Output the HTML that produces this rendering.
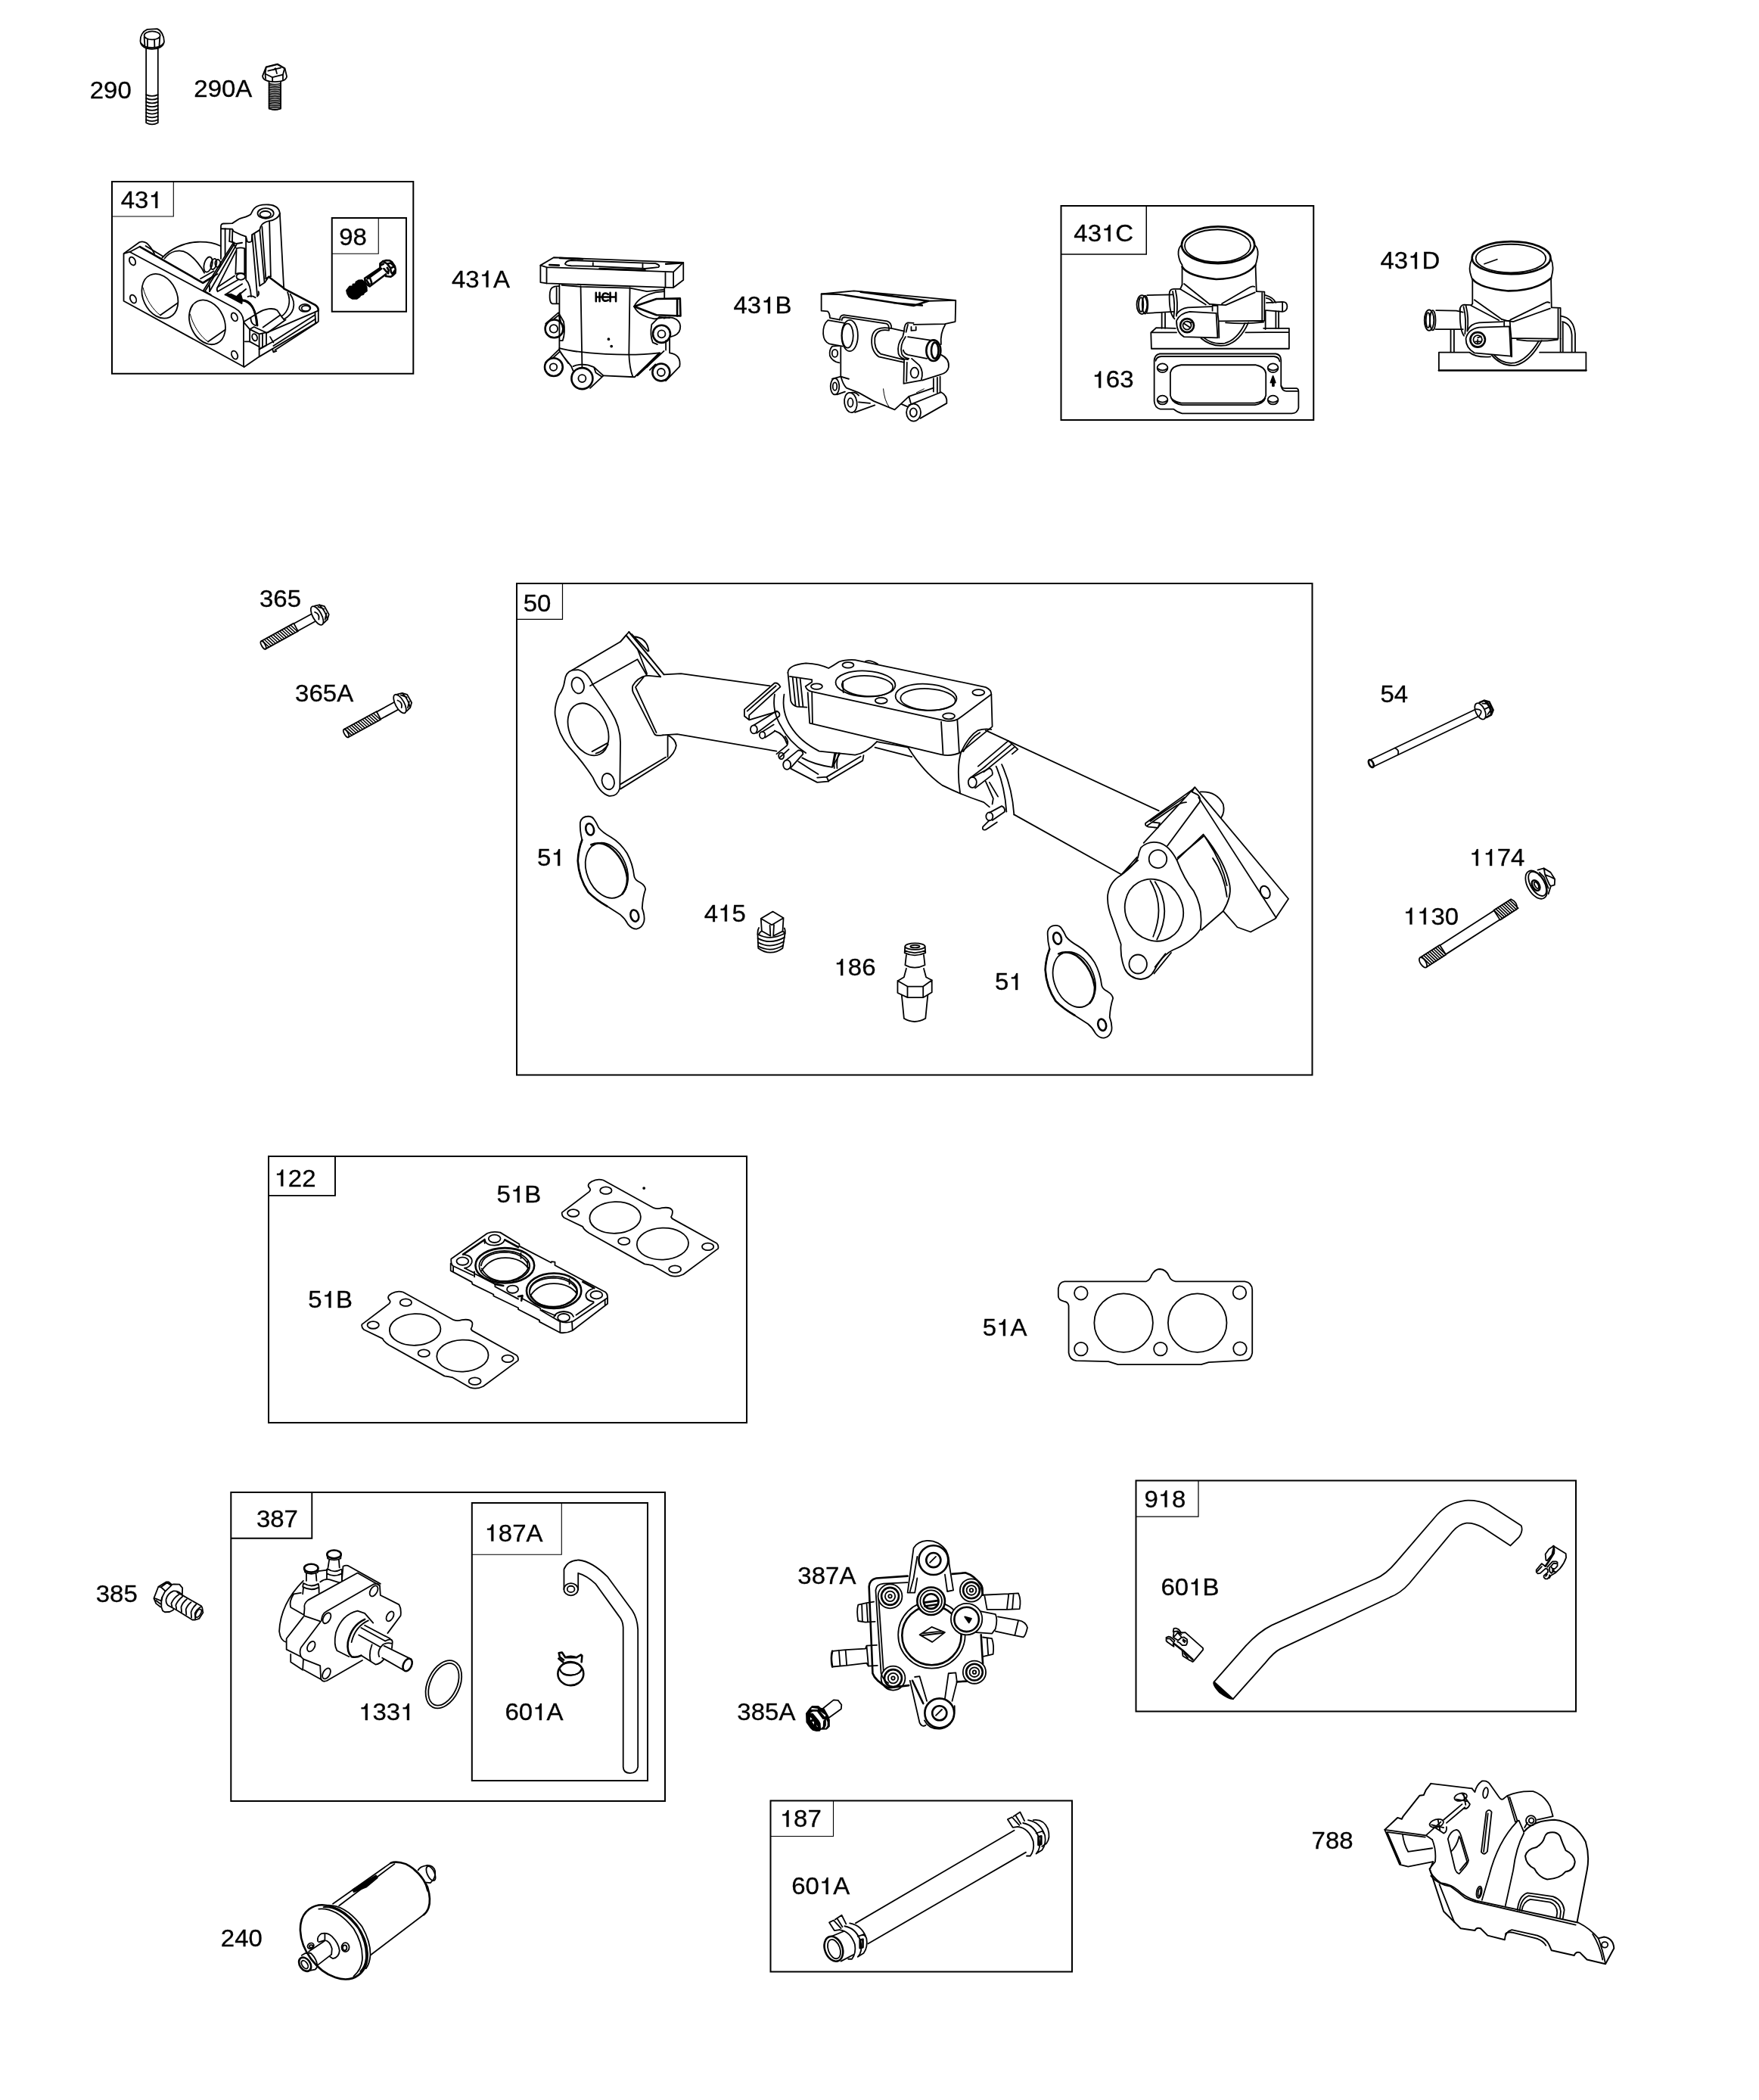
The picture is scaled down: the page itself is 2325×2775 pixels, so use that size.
<!DOCTYPE html>
<html><head><meta charset="utf-8"><title>Parts diagram</title>
<style>
html,body{margin:0;padding:0;background:#fff;}
body{width:2325px;height:2775px;overflow:hidden;}
svg{display:block;}
svg text{font-family:"Liberation Sans",sans-serif;font-size:30px;fill:#000;}
.b{fill:none;stroke:#000;stroke-width:2;}
.l{fill:none;stroke:#000;}
g.p{fill:none;stroke:#000;stroke-width:1.8;stroke-linecap:round;stroke-linejoin:round;}
g.p *{vector-effect:non-scaling-stroke;}
.t{stroke-width:1.0;}
.h{stroke-width:2.6;}
.m{stroke-width:2;}
.w{fill:#fff;}
.k{fill:#000;}
</style></head><body>
<svg width="2325" height="2775" viewBox="0 0 2325 2775">
<rect x="0" y="0" width="2325" height="2775" fill="#fff" stroke="none"/>
<g id="boxes">
<rect class="b" x="148" y="240" width="398.30" height="253.75"/>
<path class="l" stroke-width="1.1" d="M229.3,240 V286 H148"/>
<rect class="b" x="438.75" y="288" width="98.25" height="123.75"/>
<path class="l" stroke-width="1.1" d="M500.25,288 V335.3 H438.75"/>
<rect class="b" x="1402.5" y="272" width="333.75" height="283.00"/>
<path class="l" stroke-width="1.5" d="M1515.25,272 V336 H1402.5"/>
<rect class="b" x="683" y="771" width="1051.50" height="649.50"/>
<path class="l" stroke-width="1.2" d="M743.5,771 V818.4 H683"/>
<rect class="b" x="355" y="1528" width="632.00" height="352.00"/>
<path class="l" stroke-width="1.9" d="M443,1528 V1579.85 H355"/>
<rect class="b" x="305.3" y="1972" width="573.70" height="408.00"/>
<path class="l" stroke-width="1.9" d="M412.3,1972 V2032.8 H305.3"/>
<rect class="b" x="623.8" y="1986" width="232.20" height="367.00"/>
<path class="l" stroke-width="1.1" d="M742.3,1986 V2054.3 H623.8"/>
<rect class="b" x="1501.5" y="1956.5" width="581.50" height="305.00"/>
<path class="l" stroke-width="1.25" d="M1584,1956.5 V2004 H1501.5"/>
<rect class="b" x="1018.5" y="2379.5" width="398.50" height="226.00"/>
<path class="l" stroke-width="1.1" d="M1101.5,2379.5 V2426.5 H1018.5"/>
</g>
<g class="p" transform="translate(100,20) scale(0.18192)">
<path d="M470,188 C468,150 488,118 520,104 L592,100 C622,112 642,150 643,192 C640,228 600,247 555,247 C510,247 472,228 470,188Z"/>
<ellipse cx="556" cy="148" rx="58" ry="30"/>
<path d="M498,160 L503,226 M522,176 L522,238 M572,178 L574,238 M612,160 L607,226 M476,205 C490,228 520,236 555,236 C595,236 625,225 638,205"/>
<path d="M512,244 V782 Q555,806 598,782 V244"/>
<path d="M512,578 Q555,598 598,578"/>
<path d="M512,604 Q555,624 598,604"/>
<path d="M512,630 Q555,650 598,630"/>
<path d="M512,656 Q555,676 598,656"/>
<path d="M512,682 Q555,702 598,682"/>
<path d="M512,708 Q555,728 598,708"/>
<path d="M512,734 Q555,754 598,734"/>
<path d="M512,760 Q555,780 598,760"/>
<path d="M1358,442 L1384,376 L1466,355 L1520,386 L1534,446 C1530,470 1500,484 1448,484 C1398,484 1360,470 1358,442Z"/>
<path d="M1384,378 L1466,358 L1518,388 L1506,432 L1430,452 L1377,426Z"/>
<path d="M1377,426 L1380,462 M1430,452 L1430,482 M1506,432 L1506,468 M1398,405 L1490,383 M1436,398 L1452,386 L1462,424"/>
<path d="M1405,484 V676 Q1448,700 1490,676 V484"/>
<path d="M1405,498 Q1448,508 1490,498" stroke-width="1.6"/>
<path d="M1405,511 Q1448,521 1490,511" stroke-width="1.6"/>
<path d="M1405,524 Q1448,534 1490,524" stroke-width="1.6"/>
<path d="M1405,537 Q1448,547 1490,537" stroke-width="1.6"/>
<path d="M1405,550 Q1448,560 1490,550" stroke-width="1.6"/>
<path d="M1405,563 Q1448,573 1490,563" stroke-width="1.6"/>
<path d="M1405,576 Q1448,586 1490,576" stroke-width="1.6"/>
<path d="M1405,589 Q1448,599 1490,589" stroke-width="1.6"/>
<path d="M1405,602 Q1448,612 1490,602" stroke-width="1.6"/>
<path d="M1405,615 Q1448,625 1490,615" stroke-width="1.6"/>
<path d="M1405,628 Q1448,638 1490,628" stroke-width="1.6"/>
<path d="M1405,641 Q1448,651 1490,641" stroke-width="1.6"/>
<path d="M1405,654 Q1448,664 1490,654" stroke-width="1.6"/>
<path d="M1405,667 Q1448,677 1490,667" stroke-width="1.6"/>
<path d="M1405,680 Q1448,690 1490,680" stroke-width="1.6"/>
</g>
<g class="p" transform="translate(155,305) scale(0.12508)">
<!-- front flange -->
<path d="M68,240 L68,742 L1335,1435 L1335,955 C1330,885 1290,842 1240,815 L130,222 Z"/>
<path d="M72,238 L235,120 Q272,106 308,128 Q345,155 392,240"/>
<path d="M135,222 L240,166"/>
<path class="h" d="M240,168 L905,550 L1030,472"/>
<path d="M300,160 L480,268"/>
<path d="M475,285 C560,190 700,125 850,118 C950,115 1040,135 1090,160"/>
<path d="M500,292 C560,215 660,185 740,235 C820,290 890,380 920,445"/>
<ellipse cx="451" cy="690" rx="178" ry="245" transform="rotate(-25 451 690)"/>
<ellipse cx="951" cy="966" rx="178" ry="245" transform="rotate(-25 951 966)"/>
<path d="M455,892 L640,762 M960,1172 L1140,1045"/>
<path class="t" d="M272,600 C300,720 380,840 455,892 M770,880 C800,1000 880,1120 960,1172"/>
<ellipse cx="160" cy="320" rx="30" ry="46" transform="rotate(-25 160 320)"/>
<ellipse cx="168" cy="720" rx="30" ry="46" transform="rotate(-25 168 720)"/>
<ellipse cx="1238" cy="910" rx="30" ry="46" transform="rotate(-25 1238 910)"/>
<ellipse cx="1240" cy="1312" rx="30" ry="46" transform="rotate(-25 1240 1312)"/>
<!-- area right of plate, Z8-C coords -->
<g transform="translate(1160,520)">
<path d="M180,920 L340,810 L340,705"/>
<path class="h" d="M600,90 L930,262 Q965,285 965,322"/>
<path d="M965,322 L965,440 L340,810"/>
<path d="M930,338 L935,455 M965,322 L930,338"/>
<path d="M415,558 L930,338 M478,655 L925,372 M490,695 L935,412 M505,742 L950,452 M340,730 L478,655 M455,600 L490,660"/>
<path d="M480,730 L490,762 L522,750"/>
<ellipse cx="822" cy="295" rx="60" ry="40"/><ellipse cx="832" cy="299" rx="44" ry="29"/>
<path d="M640,130 C680,230 650,330 575,385 M668,150 C742,260 700,360 600,415"/>
<path d="M330,345 C400,300 490,292 530,320 L580,392 L600,415"/>
<path d="M180,440 L330,345 M380,500 L560,372 M430,555 L620,420"/>
<path d="M240,520 L340,570 L340,705 L240,650 Z M240,520 L285,495 L415,555 L340,570 M415,555 L415,690 L340,730 M375,575 L375,715"/>
<ellipse cx="292" cy="605" rx="26" ry="38" transform="rotate(-20 292 605)"/>
<path d="M180,450 L240,520 M190,650 L240,650"/>
<path class="h" d="M160,215 C260,230 310,330 320,480"/>
<path d="M250,400 C250,440 270,470 300,480"/>
</g>
<!-- tower, Z8-B coords -->
<g transform="translate(760,-344)">
<path d="M335,640 L335,300 Q335,270 360,268 L455,265 L525,220 C560,205 620,195 650,170 C665,150 665,130 690,105 C720,75 780,65 840,68 C900,72 950,100 958,160 L960,200 L1000,950"/>
<path d="M958,160 C950,200 900,230 850,240 C800,250 770,265 755,300 L745,335 L665,385 L660,455 Q640,470 615,460 L600,405 L545,385 L470,350 L455,325 L340,322"/>
<ellipse cx="808" cy="160" rx="85" ry="55"/><ellipse cx="805" cy="170" rx="58" ry="34"/>
<path d="M380,322 L380,610 M430,325 L425,455 M458,328 L455,455"/>
<path d="M665,385 L720,1035 M690,375 L745,925 M745,335 L795,885 M770,300 L810,850 M848,245 L862,825"/>
<path d="M720,1035 Q745,1020 732,985 M745,925 L800,890 L840,830 L862,825 M810,850 L840,830"/>
<path class="h" d="M840,830 L1000,950"/>
<path d="M600,405 L600,850 M500,530 Q545,515 585,530 M500,530 L490,800 M585,530 L585,800 M490,800 Q540,780 585,800"/>
<ellipse cx="545" cy="828" rx="46" ry="34"/>
<path d="M425,455 L500,480 L560,470 M455,455 L490,520"/>
<path d="M470,465 L150,975 M500,490 L215,985 M495,555 L300,940 M480,478 L170,978"/>
<ellipse cx="200" cy="700" rx="42" ry="82" transform="rotate(15 200 700)"/>
<ellipse cx="258" cy="695" rx="30" ry="58" transform="rotate(15 258 695)"/>
<ellipse cx="302" cy="688" rx="28" ry="40"/>
<path d="M120,850 L260,770 M150,890 L300,800"/>
<path d="M300,940 L480,820 M300,985 L520,860 M380,1020 L560,905 M480,1060 L600,960 M300,940 Q285,965 300,985"/>
<path class="k" d="M380,1018 L555,1112 L560,1070 L540,1000 L500,1040 L440,1012 Z"/>
<path class="h" d="M560,1075 C640,1075 700,1150 715,1340"/>
<path d="M600,860 C640,900 650,960 655,1040 M620,1040 Q660,1020 700,1050"/>
<path d="M160,980 L230,1020 M215,985 L215,920"/>
</g>
</g>

<g class="p" transform="translate(438,330) scale(0.06254)">
<path class="k" d="M320,860 L385,775 L450,770 L455,730 L510,720 L520,680 L580,645 L650,640 L700,690 L745,790 L750,870 L690,910 L680,940 L620,960 L600,990 L540,1035 L440,1035 L370,990 L335,930 Z"/>
<path class="h" d="M705,605 L1030,385 M810,775 L1150,520 M705,605 L715,690 L765,745 L810,775 M770,610 L1060,400" stroke-width="3"/>
<path class="h" d="M820,610 L850,690 L840,720 M740,640 L800,730"/>
<path class="h" d="M1030,385 L1030,292 L1090,242 L1150,226 L1232,228 L1282,262 L1342,352 L1356,422 L1350,492 L1300,542 L1255,572 L1150,560 L1150,520" stroke-width="3"/>
<path class="h" d="M1090,242 L1180,300 L1250,390 L1320,360 M1180,300 L1250,280 L1310,330 M1250,390 L1260,470 L1290,510 L1340,440 M1110,400 L1170,470 L1200,500 L1210,430 L1180,380 M1040,330 L1100,300"/>
</g>

<g class="p" transform="translate(705,330) scale(0.12508)">
<path d="M75,165 L215,82 L1585,135 L1585,320 L1480,400 L140,355 L75,345 Z"/>
<path d="M140,185 L1480,235 L1480,400 M140,185 L140,355 M75,165 L140,185 M1480,235 L1585,135 M1395,232 L1395,398"/>
<path d="M335,150 Q345,115 400,112 L1290,145 Q1350,165 1320,185 L1180,200 L640,175 L400,170 Q340,165 335,150 M630,120 L630,175 M1155,140 L1155,195"/>
<path class="h" d="M280,88 L520,98 M170,160 L270,165 M1400,150 L1560,140 M700,200 L1180,218"/>
<path d="M275,365 L275,1060 M500,385 L515,1240 M1020,400 L1010,1100 Q1015,1250 1050,1340"/>
<path d="M275,1040 C500,1100 1000,1130 1330,1090"/>
<path d="M740,1330 L1070,1345 L1330,1090 M1100,1330 L1380,1070 M1440,930 L1440,1085 M1400,960 L1400,1060"/>
<path d="M270,385 Q180,380 175,450 Q165,560 200,570 L270,570 M245,400 L245,565"/>
<path d="M300,375 L500,390 L1020,405 L1200,440 L1385,420"/>
<!-- bosses -->
<circle class="h" cx="220" cy="835" r="95"/><circle cx="215" cy="835" r="42"/>
<circle class="h" cx="215" cy="1240" r="95"/><circle cx="212" cy="1240" r="38"/>
<circle class="h" cx="515" cy="1360" r="112"/><circle cx="515" cy="1360" r="40"/>
<circle class="h" cx="1355" cy="890" r="92"/><circle cx="1355" cy="890" r="40"/>
<circle class="h" cx="1350" cy="1295" r="92"/><circle cx="1350" cy="1295" r="40"/>
<path d="M1380,725 C1480,690 1570,750 1550,840 C1540,890 1490,912 1450,920"/>
<path d="M1440,1090 C1520,1100 1560,1150 1545,1235 L1400,1385"/>
<path d="M130,780 L265,665 L320,760 Q340,870 310,960 L285,960 M200,745 L270,690 L290,760"/>
<path d="M130,1190 L270,1055 L320,1130 L400,1230 L425,1290 M290,1090 L370,1200 M210,1140 L275,1080"/>
<path d="M420,1232 Q520,1190 640,1240 L740,1330 L600,1462 M640,1240 L660,1300 L720,1340"/>
<path d="M1250,790 L1330,710 L1440,720 M1250,790 Q1230,900 1262,980 L1310,1000 M1200,1240 L1340,1090 M1230,1270 L1290,1210"/>
<!-- nozzle -->
<path class="h" d="M1065,600 L1300,520 L1550,515 L1555,700 L1300,690 Z"/>
<path d="M1065,600 C1100,520 1200,470 1290,450 L1385,440 M1065,600 C1100,680 1200,720 1280,730 L1400,715"/>
<path class="h" d="M1520,525 L1520,700"/>
<path d="M1385,400 L1385,510"/>
<!-- HCH -->
<path class="h" stroke-width="3" d="M662,455 V545 M700,455 V545 M662,500 H700 M790,470 Q735,440 728,500 Q735,560 790,532 M812,455 V545 M872,455 V545 M700,500 H812 M812,500 H872"/>
<circle class="k" cx="795" cy="945" r="8"/><circle class="k" cx="825" cy="1020" r="8"/>
</g>

<g class="p" transform="translate(1075,375) scale(0.12508)">
<path d="M285,380 L175,360 Q175,310 150,290 L85,285 L85,108 L430,75 L1505,175 L1500,400 L1390,425 L1060,430"/>
<path class="h" d="M335,120 L1060,232 L1215,182 L500,86 M850,202 L1150,228"/>
<path d="M85,108 L270,112 L335,120 M1215,182 L1505,175"/>
<path d="M280,380 Q280,328 330,330 L780,395 Q828,410 825,470 L960,500"/>
<path d="M302,385 Q300,350 340,354 L770,420 Q802,428 800,482"/>
<path d="M155,385 Q100,430 105,530 Q110,610 170,635 L310,660 M155,385 L330,415"/>
<ellipse cx="385" cy="548" rx="86" ry="165"/><ellipse cx="362" cy="548" rx="60" ry="128"/>
<path d="M290,670 L290,970 Q310,1060 350,1100 L480,1150 L640,1240 L860,1330 L1010,1190 L1270,1100"/>
<path d="M275,655 L200,660 Q165,700 175,760 Q200,820 275,835"/>
<ellipse cx="228" cy="735" rx="30" ry="40"/>
<ellipse cx="228" cy="1085" rx="46" ry="86"/><ellipse cx="228" cy="1085" rx="22" ry="42"/>
<path d="M200,1005 L290,980 M250,1170 L335,1140 M290,980 L375,1005"/>
<ellipse cx="395" cy="1255" rx="66" ry="106" transform="rotate(-8 395 1255)"/><ellipse cx="392" cy="1255" rx="28" ry="46"/>
<path d="M400,1150 Q450,1140 480,1180 M440,1358 L650,1282 M480,1250 L600,1262"/>
<ellipse cx="1060" cy="1360" rx="76" ry="92"/><ellipse cx="1058" cy="1360" rx="36" ry="46"/>
<path d="M1010,1282 L1350,1145 Q1420,1180 1410,1262 L1130,1422 M1010,1190 L1030,1262 M930,1270 L1000,1300"/>
<path d="M820,470 Q640,440 620,560 Q600,700 690,770 L960,830 M800,492 Q670,470 650,572 Q640,690 710,740 L950,800"/>
<path d="M1000,560 L1280,602 M950,700 Q960,740 1000,750 L1200,790"/>
<ellipse class="h" cx="1270" cy="705" rx="76" ry="110"/><ellipse class="h" cx="1285" cy="705" rx="38" ry="84"/>
<path d="M960,500 Q960,420 1000,410 L1060,415 M980,510 L1000,430 M960,500 L945,560 Q880,640 900,740 Q920,800 1000,800 M975,560 Q910,650 935,740 Q950,780 1010,790"/>
<path d="M1035,455 L1035,495 L1085,490 L1085,455"/>
<path d="M1395,430 Q1340,520 1350,640 M1350,750 Q1440,790 1430,880 Q1420,940 1340,960 L1150,1020"/>
<path d="M960,800 L955,1055 L1140,1020 Q1170,930 1120,860 L1040,790 M990,830 L985,1030"/>
<ellipse cx="1070" cy="940" rx="42" ry="55"/>
<path d="M1270,1000 L1270,1140 M1310,990 L1310,1150 M1340,980 L1340,1150"/>
<path class="t" d="M740,1110 Q750,1230 800,1300 M1090,1150 L1170,1110 M290,980 L370,1008"/>
</g>

<g class="p" transform="translate(1495,290) scale(0.12508)">
<ellipse class="h" cx="920" cy="270" rx="385" ry="195"/>
<ellipse cx="915" cy="278" rx="348" ry="172"/>
<path d="M535,270 Q495,300 500,370 Q510,440 540,480 L540,690 M1305,270 Q1345,300 1340,370 Q1330,440 1315,480 L1325,760"/>
<path class="h" d="M540,500 Q600,600 900,632 Q1200,622 1315,482"/>
<path d="M540,690 L520,735 M560,680 L830,895 M520,735 L790,900"/>
<path d="M1325,760 L1410,765 L1410,1070 M1305,710 Q1280,700 1250,720 L960,890 M1310,770 L1000,905 Q900,900 830,895 M1385,770 L1385,1070"/>
<path d="M860,965 L860,910 L915,910 L915,990"/>
<path d="M520,735 L450,735 Q410,735 405,780 Q400,1000 460,1050 M440,760 Q470,900 450,1040 M470,750 Q500,880 480,1020"/>
<path d="M170,800 L440,795 M170,990 L450,975"/>
<ellipse cx="115" cy="900" rx="55" ry="100"/><ellipse cx="148" cy="900" rx="30" ry="96"/><ellipse cx="105" cy="900" rx="25" ry="75"/>
<path d="M480,1000 Q520,940 600,930 L850,920"/>
<path class="w" d="M480,1070 Q520,990 620,975 L900,990 L915,1250 L560,1240 Q480,1200 480,1070 Z"/>
<circle class="h" cx="592" cy="1120" r="72"/><circle cx="592" cy="1120" r="44"/><path d="M560,1100 L620,1140 M592,1076 L640,1090"/>
<path d="M915,990 L925,1075 L1400,1070 M925,1075 L930,1250 M1000,1090 Q1200,1110 1400,1085"/>
<path d="M740,1255 Q850,1350 1000,1330 Q1150,1290 1240,1090 M770,1250 Q860,1325 990,1308 Q1120,1275 1205,1095"/>
<path d="M470,1150 L265,1145 L210,1195 L215,1365 L1670,1365 L1670,1150 L1400,1150 M210,1195 L480,1195 M1210,1195 L1670,1190"/>
<path d="M325,990 L325,1150 M360,990 L360,1150 M1420,960 L1420,1160 M1530,970 L1530,1150 M1560,970 L1560,1150"/>
<path d="M1420,800 Q1500,820 1530,880 M1430,830 Q1480,840 1500,880 M1430,880 L1600,870 Q1650,870 1650,920 Q1650,970 1600,975 L1430,960 M1600,870 L1600,975"/>
</g>
<g class="p" transform="translate(1515,455) scale(0.12508)">
<path d="M140,100 L1370,100 Q1425,110 1425,170 L1425,430 Q1430,465 1470,465 L1590,465 Q1610,470 1610,500 L1610,670 Q1600,725 1540,730 L380,730 Q330,720 290,685 L150,685 Q90,670 85,600 L85,170 Q90,110 140,100 Z"/>
<path d="M100,175 Q110,130 160,128 L1350,128 Q1405,135 1410,180 M1425,440 Q1440,495 1480,495 L1600,495"/>
<path d="M370,218 L1160,218 Q1260,240 1265,310 L1265,540 Q1250,610 1150,620 L370,620 Q265,600 255,540 L255,300 Q270,230 370,218 Z M262,565 Q290,630 380,640 L1150,640 Q1240,625 1258,570"/>
<ellipse cx="172" cy="250" rx="55" ry="47"/><ellipse cx="1340" cy="250" rx="55" ry="47"/><ellipse cx="172" cy="588" rx="55" ry="47"/><ellipse cx="1340" cy="588" rx="55" ry="47"/>
<path d="M125,258 Q172,292 220,258 M1293,258 Q1340,292 1388,258 M125,596 Q172,630 220,596 M1293,596 Q1340,630 1388,596"/>
<path class="k" d="M1340,335 L1315,405 L1335,400 L1335,440 L1350,440 L1350,400 L1365,405 Z"/>
</g>

<g class="p" transform="translate(1875,310) scale(0.12508)">
<ellipse class="h" cx="980" cy="245" rx="415" ry="172"/>
<ellipse cx="975" cy="252" rx="370" ry="150"/>
<path d="M695,310 L830,262"/>
<path d="M563,260 Q530,330 545,400 Q555,440 570,480 L570,730 M1397,250 Q1430,320 1415,400 L1400,470 L1405,770"/>
<path class="h" d="M570,470 Q650,570 950,595 Q1250,590 1400,460"/>
<path d="M570,730 L555,750 M590,690 L880,895 M555,750 L850,905"/>
<path d="M1405,770 L1500,775 L1500,1100 M1385,720 Q1360,705 1330,725 L970,900 M1390,780 L1000,920 Q930,915 880,895 M1475,780 L1475,1100"/>
<path d="M905,975 L905,910 L965,910 L970,990"/>
<path d="M555,745 L480,740 Q440,745 435,800 M440,790 Q430,1000 480,1070 M475,760 Q510,900 490,1050 M500,750 Q535,880 515,1020"/>
<path d="M185,800 L400,805 L470,820 M180,1000 L470,1000"/>
<ellipse cx="112" cy="905" rx="50" ry="110"/><ellipse cx="150" cy="905" rx="30" ry="105"/><ellipse cx="100" cy="905" rx="22" ry="80"/>
<path d="M520,1010 Q550,940 640,930 L890,920"/>
<path class="w" d="M500,1100 Q520,1000 640,980 L960,970 L975,1285 L590,1250 Q500,1200 500,1100 Z"/>
<circle class="h" cx="625" cy="1110" r="78"/><circle cx="625" cy="1110" r="46"/><path d="M600,1130 H660 M625,1090 L660,1075 M625,1110 V1150"/>
<path d="M970,990 L980,1095 L1470,1100 M980,1095 L985,1290 M1040,1110 Q1250,1140 1470,1110"/>
<path d="M770,1270 Q880,1400 1030,1380 Q1180,1340 1300,1120 M800,1275 Q890,1375 1020,1355 Q1150,1320 1270,1125"/>
<path class="h" d="M215,1435 L1770,1435"/>
<path d="M540,1245 L215,1245 L215,1435 M1770,1435 L1770,1245 L1280,1245 M540,1245 Q600,1300 760,1290"/>
<path d="M340,1010 L340,1240 M375,1010 L375,1240 M1500,1100 L1500,1240 M1525,930 L1525,1240"/>
<path d="M1505,860 Q1640,880 1655,1050 L1655,1240 M1520,920 Q1610,940 1620,1060 L1620,1240"/>
</g>

<g class="p" transform="translate(348.1,852.4) rotate(-28.7)">
<path d="M49,-5.5 L81,-5.5 M49,5.5 L81,5.5"/>
<path d="M0,-5.94 L49,-5.94 L49,5.94 L0,5.94"/>
<ellipse cx="0" cy="0" rx="2.4" ry="5.94"/>
<path stroke-width="1.5" d="M1.3,-5.94 L5.3,5.94 M4.6,-5.94 L8.6,5.94 M7.9,-5.94 L11.9,5.94 M11.2,-5.94 L15.2,5.94 M14.5,-5.94 L18.5,5.94 M17.8,-5.94 L21.8,5.94 M21.1,-5.94 L25.1,5.94 M24.4,-5.94 L28.4,5.94 M27.7,-5.94 L31.7,5.94 M31.0,-5.94 L35.0,5.94 M34.3,-5.94 L38.3,5.94 M37.6,-5.94 L41.6,5.94 M40.9,-5.94 L44.9,5.94 M44.2,-5.94 L48.2,5.94"/>
<ellipse class="w" cx="81" cy="0" rx="5.8" ry="13.7"/>
<path d="M80.5,-5.5 Q85.4,0 80.5,5.5"/>
<path d="M84.4,-12.7 L90.5,-11.0 L95.4,-6.1 L95.4,6.1 L90.5,11.0 L84.4,12.7"/>
<path d="M90.5,-11.0 Q93.8,0 90.5,11.0 M87.7,-9.6 L93.2,-3.3 M87.7,9.6 L93.2,3.3"/>
</g>
<g class="p" transform="translate(457.5,969.0) rotate(-28.7)">
<path d="M49,-5.5 L81,-5.5 M49,5.5 L81,5.5"/>
<path d="M0,-5.94 L49,-5.94 L49,5.94 L0,5.94"/>
<ellipse cx="0" cy="0" rx="2.4" ry="5.94"/>
<path stroke-width="1.5" d="M1.3,-5.94 L5.3,5.94 M4.6,-5.94 L8.6,5.94 M7.9,-5.94 L11.9,5.94 M11.2,-5.94 L15.2,5.94 M14.5,-5.94 L18.5,5.94 M17.8,-5.94 L21.8,5.94 M21.1,-5.94 L25.1,5.94 M24.4,-5.94 L28.4,5.94 M27.7,-5.94 L31.7,5.94 M31.0,-5.94 L35.0,5.94 M34.3,-5.94 L38.3,5.94 M37.6,-5.94 L41.6,5.94 M40.9,-5.94 L44.9,5.94 M44.2,-5.94 L48.2,5.94"/>
<ellipse class="w" cx="81" cy="0" rx="5.8" ry="13.7"/>
<path d="M80.5,-5.5 Q85.4,0 80.5,5.5"/>
<path d="M84.4,-12.7 L90.5,-11.0 L95.4,-6.1 L95.4,6.1 L90.5,11.0 L84.4,12.7"/>
<path d="M90.5,-11.0 Q93.8,0 90.5,11.0 M87.7,-9.6 L93.2,-3.3 M87.7,9.6 L93.2,3.3"/>
</g>
<g class="p" stroke-width="1.25" transform="translate(720,820) scale(0.25014)">
<!-- left flange face -->
<path d="M145,262 Q110,272 105,320 Q100,360 75,395 Q50,450 55,500 Q70,600 130,670 Q200,745 255,830 Q290,912 340,927 Q385,930 397,885 L400,645 Q400,560 350,480 Q300,400 255,340 Q225,270 178,260 Z"/>
<ellipse cx="175" cy="343" rx="32" ry="43" transform="rotate(-15 175 343)"/>
<ellipse cx="335" cy="850" rx="32" ry="43" transform="rotate(-15 335 850)"/>
<ellipse cx="230" cy="575" rx="98" ry="145" transform="rotate(-25 230 575)"/>
<path d="M250,692 L330,648 M270,702 Q310,692 335,655"/>
<path d="M145,262 L400,112 L445,60 M240,345 L490,205 L540,290"/>
<path class="m" d="M445,60 L630,285 M430,78 L612,297"/>
<path d="M460,72 L545,162 M470,85 Q540,90 550,160 M400,112 L430,78 M490,150 L540,280"/>
<path d="M540,290 Q490,300 465,345 Q458,370 475,395 L580,600 Q590,612 625,605 M522,300 L480,352 L590,592 M540,290 L612,297"/>
<path d="M630,285 L720,280 L1190,345 M625,605 L700,600 L1225,690"/>
<path d="M400,890 L640,740 Q690,700 695,660 Q690,625 650,605 M400,865 L640,722 M650,610 L650,720"/>
<!-- left collar -->
<path d="M1055,470 L1215,330 Q1235,328 1245,350 L1080,500 M1055,470 L1055,505 L1080,525 L1080,500 M1080,525 L1230,480 M1070,478 L1222,345"/>
<ellipse cx="1105" cy="575" rx="18" ry="22"/><path d="M1105,553 L1225,478 Q1245,485 1240,505 L1120,595"/>
<ellipse cx="1150" cy="605" rx="15" ry="18"/><path d="M1150,588 L1210,550 M1165,618 L1215,585"/>
<path d="M1215,390 Q1200,480 1250,560 Q1290,640 1380,700 M1265,390 Q1250,480 1300,560 Q1350,640 1450,690 L1640,710 Q1700,700 1755,640"/>
<path class="m" d="M1215,582 Q1265,600 1280,650"/>
<path d="M1225,705 L1280,660 Q1292,640 1270,612 M1240,725 L1290,680"/>
<ellipse cx="1280" cy="762" rx="20" ry="25"/><path d="M1275,738 L1340,685 Q1365,685 1365,705 L1300,778"/><ellipse cx="1250" cy="715" rx="14" ry="17"/>
<path d="M1300,782 L1440,855 L1495,850 L1680,740 L1685,712 M1440,830 L1490,826 L1500,850 M1340,745 L1445,812 M1490,826 L1670,718"/>
<path d="M1360,725 Q1420,760 1520,775 L1560,702 M1532,702 L1520,770"/>
<!-- carb mount, coords of zoom b -->
<g transform="translate(1200,80)">
<path d="M85,195 Q85,155 180,145 Q250,148 300,172 Q330,155 355,138 Q390,125 440,128 L1130,272 Q1160,285 1160,310 L985,440 Q960,455 920,450 L210,295 Q185,290 178,268 L212,245 L212,232 L95,215"/>
<path d="M495,135 Q520,125 560,150"/>
<path d="M85,195 L100,345 Q110,370 135,375 L185,378 M110,220 L125,365 M130,225 L145,372 M150,228 L165,375"/>
<path d="M190,300 L200,462 L895,628 Q950,640 1000,615 L1165,480 L1160,310 M212,300 L215,465 M895,455 L905,628 M980,442 L990,612"/>
<ellipse cx="403" cy="155" rx="30" ry="15"/><ellipse cx="237" cy="268" rx="30" ry="15"/><ellipse cx="578" cy="343" rx="32" ry="16"/><ellipse cx="1092" cy="300" rx="32" ry="16"/><ellipse cx="935" cy="425" rx="32" ry="16"/>
<ellipse cx="495" cy="254" rx="158" ry="68" transform="rotate(3 495 254)"/><ellipse cx="505" cy="266" rx="135" ry="54" transform="rotate(3 505 266)"/>
<ellipse cx="815" cy="325" rx="162" ry="70" transform="rotate(3 815 325)"/><ellipse cx="825" cy="337" rx="145" ry="57" transform="rotate(3 825 337)"/>
<path d="M375,240 L378,300"/>
<path d="M340,620 Q325,660 330,700 M355,620 Q340,660 345,700"/>
<path d="M555,560 L720,590 M545,590 L740,640"/>
<path d="M720,590 Q800,720 900,790 Q1000,840 1120,880 L1150,905 M1000,615 Q975,700 995,830 M1000,615 Q1040,530 1090,500 Q1120,490 1160,495 M1012,612 Q1050,540 1100,512"/>
<path d="M1130,500 L2045,925 M1280,945 L1845,1260"/>
<path d="M1215,680 Q1270,800 1280,945 M1185,690 Q1230,790 1240,930"/>
<path d="M1090,690 L1250,555 L1300,600 L1270,625 M1110,705 L1265,575 M1120,720 L1280,590 M1050,750 L1130,690"/>
<ellipse cx="1060" cy="775" rx="22" ry="28"/><path d="M1060,748 L1150,700 Q1170,710 1165,735 L1075,805 M1130,770 L1170,860 L1165,890 M1150,775 L1195,850"/>
<ellipse cx="1150" cy="955" rx="18" ry="22"/><path d="M1150,935 L1215,900 Q1235,910 1230,930 L1165,975 M1115,1010 Q1110,1030 1130,1025 L1190,985 M1115,1010 L1150,975"/>
<!-- right flange, coords of zoom c -->
<g transform="translate(1120,640)">
<path class="w" d="M830,480 Q870,440 930,455 Q980,470 1020,545 Q1060,650 1110,710 Q1160,800 1145,910 Q1100,980 1000,1020 Q940,1050 900,1130 Q880,1170 830,1175 Q770,1170 745,1120 Q720,1060 725,990 Q700,920 680,860 Q650,790 655,730 Q665,660 725,625 Q800,570 815,530 Q820,500 830,480 Z"/>
<ellipse cx="920" cy="540" rx="47" ry="48"/><ellipse cx="815" cy="1095" rx="47" ry="50"/>
<ellipse cx="900" cy="810" rx="150" ry="168" transform="rotate(-30 900 810)"/>
<path d="M880,655 Q960,790 895,950 M905,660 Q1000,800 915,965"/>
<path d="M845,455 L1115,160 L1610,750 L1540,855 L1410,925 L1340,900 L1265,815 M970,470 L1140,240 Q1148,215 1130,200 L1100,185 L1115,160"/>
<path d="M1020,545 L1160,410 L1180,440 M1160,410 Q1280,560 1300,680 Q1310,740 1265,815 L1150,915 M1180,440 Q1260,560 1285,680 M1210,535 Q1270,620 1285,740 M1135,215 L1545,850"/>
<path class="m" d="M1025,532 L1160,420"/>
<path d="M1145,185 Q1230,180 1265,250 Q1275,290 1255,320"/>
<ellipse class="m" cx="1487" cy="715" rx="24" ry="34" transform="rotate(-25 1487 715)"/>
<path d="M855,350 L1100,175 M865,362 L1010,262 M855,350 Q850,365 870,370 L920,375 L930,350 L890,345 M880,340 L1060,215 M1000,270 Q1040,240 1070,240"/>
<path d="M905,1110 L960,1040 M900,1145 L990,1035 M725,625 L810,530 M737,612 L815,547"/>
</g>
</g>
</g>

<g class="p" stroke-width="1.7" transform="translate(740,1060) scale(0.12508)">
<g id="g51">
<path d="M300,150 Q230,150 215,215 Q210,300 235,400 Q195,500 190,620 Q200,800 300,950 Q380,1030 500,1100 L640,1190 Q690,1230 720,1290 Q760,1340 810,1340 Q870,1330 890,1260 Q900,1200 870,1120 Q875,1010 905,920 Q900,880 850,850 Q790,820 785,780 Q770,650 710,540 Q640,430 540,370 Q450,320 410,270 Q390,220 360,180 Q340,150 300,150 Z"/>
<path class="h" d="M235,400 Q195,500 190,620 Q200,800 300,950 Q380,1030 500,1100"/>
<ellipse class="h" cx="317" cy="287" rx="42" ry="62" transform="rotate(-15 317 287)"/>
<ellipse class="h" cx="790" cy="1200" rx="42" ry="62" transform="rotate(-15 790 1200)"/>
<ellipse cx="495" cy="722" rx="210" ry="303" transform="rotate(-22 495 722)"/>
<path class="h" d="M330,450 Q420,410 520,470 Q680,590 712,800 Q715,900 660,970"/>
</g>
</g>
<g class="p" stroke-width="1.7" transform="translate(1357.9,1204.1) scale(0.12508)">
<path d="M300,150 Q230,150 215,215 Q210,300 235,400 Q195,500 190,620 Q200,800 300,950 Q380,1030 500,1100 L640,1190 Q690,1230 720,1290 Q760,1340 810,1340 Q870,1330 890,1260 Q900,1200 870,1120 Q875,1010 905,920 Q900,880 850,850 Q790,820 785,780 Q770,650 710,540 Q640,430 540,370 Q450,320 410,270 Q390,220 360,180 Q340,150 300,150 Z"/>
<path class="h" d="M235,400 Q195,500 190,620 Q200,800 300,950 Q380,1030 500,1100"/>
<ellipse class="h" cx="317" cy="287" rx="42" ry="62" transform="rotate(-15 317 287)"/>
<ellipse class="h" cx="790" cy="1200" rx="42" ry="62" transform="rotate(-15 790 1200)"/>
<ellipse cx="495" cy="722" rx="210" ry="303" transform="rotate(-22 495 722)"/>
<path class="h" d="M330,450 Q420,410 520,470 Q680,590 712,800 Q715,900 660,970"/>
</g>
<g class="p" stroke-width="1.5" transform="translate(980,1190) scale(0.15349)">
<path d="M168,155 L270,95 L362,150 L262,210 Z M168,155 L175,262 L250,305 M362,150 L355,265 L275,305 M245,215 L250,305 M280,210 L275,302"/>
<path d="M150,235 Q138,255 140,290 L145,410 Q250,485 355,410 L375,285 Q380,255 370,238"/>
<path d="M140,290 Q250,350 375,282 M141,325 Q250,385 371,317 M142,360 Q250,420 366,352 M144,393 Q250,452 360,386"/>
<path d="M175,262 Q160,270 150,290 M355,265 Q368,270 374,285"/>
<!-- 186 -->
<ellipse cx="1495" cy="395" rx="86" ry="28"/><ellipse cx="1495" cy="395" rx="40" ry="11"/>
<path d="M1409,398 L1405,450 Q1490,492 1585,450 L1581,398 M1406,430 Q1490,470 1584,430"/>
<path d="M1420,468 L1410,555 Q1490,600 1580,555 L1570,468"/>
<path d="M1420,585 L1400,660 L1348,690 M1570,585 L1590,660 L1640,686"/>
<path d="M1345,690 L1345,795 L1430,835 L1565,835 L1640,790 L1640,686 M1345,690 L1430,740 L1565,740 L1640,686 M1430,740 L1430,835 M1565,740 L1565,835"/>
<path d="M1380,812 L1400,1015 Q1490,1070 1585,1015 L1605,812"/>
</g>

<g class="p" stroke-width="1.7" transform="translate(1812.3,1009.0) rotate(-25.6)">
<path d="M0,-5 L158,-5 M0,5 L158,5 M37,-5 Q42,0 37,5"/>
<ellipse class="h" cx="0" cy="0" rx="2.8" ry="5.4"/>
<ellipse class="w" cx="160" cy="0" rx="6" ry="11.5"/>
<path d="M156,-5 Q166,0 156,5"/>
<path class="h" d="M164,-10.8 L171,-10.5 L176,-6 L176,6 L171,10.5 L164,10.8 M171,-10.5 Q176,0 171,10.5"/>
<path d="M167,-8 L174,-4 M167,8 L174,4 M167,0 L175,0"/>
</g>
<g class="p" stroke-width="1.6" transform="translate(1881,1271.9) rotate(-32.7)">
<path d="M31,-7.1 L116,-7.1 M31,7.1 L116,7.1"/>
<path d="M0,-7.6 L31,-7.6 L31,7.6 L0,7.6 M116,-7.6 L143,-7.6 Q148,0 143,7.6 L116,7.6 Z"/>
<ellipse class="w" cx="0" cy="0" rx="3.6" ry="7.6"/>
<path stroke-width="1.6" d="M2.7,-7.6 L6.3,7.6 M5.8,-7.6 L9.4,7.6 M8.9,-7.6 L12.5,7.6 M12.0,-7.6 L15.6,7.6 M15.1,-7.6 L18.7,7.6 M18.2,-7.6 L21.8,7.6 M21.3,-7.6 L24.9,7.6 M24.4,-7.6 L28.0,7.6 M27.5,-7.6 L31.1,7.6 M116.2,-7.6 L119.8,7.6 M119.3,-7.6 L122.9,7.6 M122.4,-7.6 L126.0,7.6 M125.5,-7.6 L129.1,7.6 M128.6,-7.6 L132.2,7.6 M131.7,-7.6 L135.3,7.6 M134.8,-7.6 L138.4,7.6 M137.9,-7.6 L141.5,7.6 M141.0,-7.6 L144.6,7.6"/>
</g>
<g class="p" stroke-width="1.6" transform="translate(1850,1110) scale(0.14782)">
<path d="M1235,268 L1290,252 L1350,290 L1388,350 L1385,402 L1352,412 L1330,482 M1290,252 L1300,310 L1350,330 L1388,350 M1300,310 L1340,400 L1352,412 M1250,290 L1290,330 L1330,430"/>
<ellipse class="w" cx="1222" cy="400" rx="78" ry="138" transform="rotate(-30 1222 400)"/>
<ellipse cx="1232" cy="392" rx="62" ry="120" transform="rotate(-30 1232 392)"/>
<ellipse class="h" cx="1218" cy="406" rx="30" ry="50" transform="rotate(-30 1218 406)"/>
<ellipse cx="1224" cy="404" rx="15" ry="32" transform="rotate(-30 1224 404)"/>
</g>
<g class="p" stroke-width="1.7" transform="translate(690,1545) scale(0.17056)"><path d="M540,95 Q585,70 630,85 L1020,300 Q1050,312 1085,300 Q1150,290 1165,320 Q1170,345 1155,370 Q1160,385 1180,392 L1510,575 Q1525,590 1520,615 L1250,815 Q1200,840 1150,825 L1010,745 Q980,738 950,735 L520,495 Q480,470 470,445 L325,375 Q305,360 310,335 L520,175 Q535,160 525,148 Q505,130 520,110 Z"/>
<ellipse cx="650" cy="165" rx="45" ry="28"/><ellipse cx="397" cy="340" rx="45" ry="28"/><ellipse cx="790" cy="558" rx="45" ry="28"/><ellipse cx="1440" cy="600" rx="45" ry="28"/><ellipse cx="1185" cy="775" rx="47" ry="28"/>
<ellipse cx="722" cy="375" rx="198" ry="122" transform="rotate(-2 722 375)"/><ellipse cx="1090" cy="578" rx="200" ry="123" transform="rotate(-2 1090 578)"/><circle class="k" cx="945" cy="147" r="6"/></g>
<g class="p" stroke-width="1.7" transform="translate(425.5,1693) scale(0.17056)"><path d="M540,95 Q585,70 630,85 L1020,300 Q1050,312 1085,300 Q1150,290 1165,320 Q1170,345 1155,370 Q1160,385 1180,392 L1510,575 Q1525,590 1520,615 L1250,815 Q1200,840 1150,825 L1010,745 Q980,738 950,735 L520,495 Q480,470 470,445 L325,375 Q305,360 310,335 L520,175 Q535,160 525,148 Q505,130 520,110 Z"/>
<ellipse cx="650" cy="165" rx="45" ry="28"/><ellipse cx="397" cy="340" rx="45" ry="28"/><ellipse cx="790" cy="558" rx="45" ry="28"/><ellipse cx="1440" cy="600" rx="45" ry="28"/><ellipse cx="1185" cy="775" rx="47" ry="28"/>
<ellipse cx="722" cy="375" rx="198" ry="122" transform="rotate(-2 722 375)"/><ellipse cx="1090" cy="578" rx="200" ry="123" transform="rotate(-2 1090 578)"/></g>
<g class="p" stroke-width="1.6" transform="translate(580,1615) scale(0.13644)">
<path d="M120,355 L470,108 Q525,85 595,100 L780,212 L780,232 L1088,392 L1092,382 L1125,385 L1125,418 L1615,678 Q1640,700 1632,735 L1300,960 Q1230,985 1165,958 L985,852 L985,835 L800,735 M770,745 L545,625 L545,600 L350,500 M330,515 L140,425 Q115,410 120,355"/>
<path d="M115,400 L115,470 L320,580 L325,600 L530,700 L530,715 L770,830 L770,845 L975,950 L975,965 L1175,1070 Q1240,1078 1295,1050 L1635,790 L1635,730 M1175,965 L1175,1070 M1290,962 L1295,1050 M1610,750 L1610,800 M140,430 L140,480"/>
<ellipse class="h" cx="640" cy="420" rx="285" ry="170"/><ellipse cx="636" cy="426" rx="245" ry="148"/>
<path d="M410,420 Q430,300 640,290 Q800,295 860,400 M415,470 Q500,340 650,345 Q800,350 860,440 M415,450 Q500,600 700,565 Q830,530 870,440 M795,300 L795,350 M860,380 L860,440"/>
<ellipse class="h" cx="1115" cy="665" rx="265" ry="170"/><ellipse cx="1110" cy="672" rx="232" ry="147"/>
<path d="M880,670 Q900,550 1110,540 Q1270,545 1335,650 M885,715 Q970,590 1120,595 Q1270,600 1335,690 M885,700 Q970,850 1170,815 Q1300,780 1340,690 M1265,550 L1265,600 M1335,630 L1335,690"/>
<ellipse cx="540" cy="160" rx="58" ry="38"/><path d="M445,165 Q450,225 540,225 Q620,222 640,170"/>
<ellipse cx="230" cy="378" rx="58" ry="38"/><path d="M250,315 Q330,330 320,390 Q300,440 250,445"/>
<ellipse cx="715" cy="650" rx="55" ry="37"/>
<ellipse cx="1527" cy="705" rx="58" ry="38"/><path d="M1500,770 Q1420,760 1425,700 Q1440,660 1490,645"/>
<ellipse cx="1210" cy="925" rx="58" ry="38"/><path d="M1115,920 Q1130,870 1210,865 Q1290,870 1305,915"/>
<path class="h" d="M235,312 L440,172 M640,172 L770,242 M1395,578 L1505,638 M545,600 L625,615 M770,720 L810,712 L800,760"/>
<path d="M440,172 L445,205 M345,530 L345,480 M1330,900 L1500,780 M1000,850 L1130,905 M250,445 L340,490"/>
</g>
<g class="p" stroke-width="1.8" transform="translate(1270,1640) scale(0.25014)">
<path d="M548,213 L980,213 Q1000,205 1008,180 Q1025,148 1052,148 Q1085,150 1100,185 Q1110,210 1135,213 L1500,213 Q1538,218 1540,258 L1540,590 Q1535,628 1500,630 L1310,640 L1270,652 L830,652 L780,636 L610,632 Q575,628 570,590 L570,342 Q568,322 545,318 Q515,312 515,290 L515,250 Q520,216 548,213 Z"/>
<circle cx="860" cy="432" r="155"/><circle cx="1250" cy="432" r="155"/>
<circle cx="635" cy="275" r="35"/><circle cx="1473" cy="272" r="35"/><circle cx="635" cy="570" r="35"/><circle cx="1055" cy="570" r="35"/><circle cx="1475" cy="568" r="35"/>
</g>

<g class="p" stroke-width="1.7" transform="translate(350,2030) scale(0.15918)">
<path d="M1020,805 L1128,660 Q1135,600 1115,568 L960,490 L955,415 Q945,385 900,400 L510,625 Q475,645 470,700 L300,925 Q285,960 300,1000 L320,1020 L460,1075 L465,1180 Q475,1215 515,1200 L810,1030"/>
<path d="M650,250 Q680,235 700,250 L960,395 M650,250 L640,370 M330,600 Q320,560 360,530 L770,305 L955,410 M330,600 L325,660 L455,705"/>
<path d="M320,370 Q130,560 120,790 Q130,870 180,880 M240,480 Q200,540 215,590 L320,650 M180,850 L320,670 M180,850 L180,940 L300,1000 M215,980 L215,1045 L315,1110 L320,1020 M325,1110 L470,1190 M240,480 L300,470"/>
<!-- fittings -->
<ellipse class="h" cx="385" cy="265" rx="58" ry="34"/><path d="M328,275 L335,300 Q385,325 440,300 L442,275 M345,310 L345,370 M425,310 L430,370 M320,390 Q385,430 445,395 M320,390 L315,420 Q385,460 450,425 L445,395 M320,430 L315,480 M450,430 L450,470"/>
<ellipse class="h" cx="575" cy="150" rx="58" ry="34"/><path d="M518,160 L522,185 Q575,210 630,185 L632,160 M535,195 L525,260 M615,195 L620,260 M520,270 Q575,310 635,275 M515,275 L515,310 Q575,345 640,310 L640,280 M515,310 L515,350 M640,310 L640,360"/>
<path d="M445,290 L520,280 M460,380 Q500,350 540,360 L620,385"/>
<!-- boss -->
<path d="M770,620 Q640,650 590,800 Q570,900 600,950 L700,1000 M770,620 L830,640 L900,720 M860,700 Q750,750 720,880"/>
<path class="h" d="M830,690 Q720,740 690,880 Q680,960 720,1000 Q760,1010 800,990"/>
<path d="M800,760 L1000,870 M830,740 L1040,850 M780,820 L960,920 M1000,870 Q1060,840 1060,880 L1055,930 M890,900 Q860,980 880,1040 L920,1065 Q960,1060 990,1020 M800,990 L880,1040 M950,1000 Q930,950 980,900 Q1020,880 1050,890"/>
<path d="M990,910 L1215,1020 M975,1010 L1150,1110"/>
<ellipse class="h" cx="1185" cy="1068" rx="34" ry="55" transform="rotate(25 1185 1068)"/>
<!-- holes -->
<ellipse cx="515" cy="680" rx="28" ry="48" transform="rotate(30 515 680)"/><ellipse cx="905" cy="455" rx="28" ry="48" transform="rotate(30 905 455)"/><ellipse cx="1040" cy="665" rx="26" ry="44" transform="rotate(30 1040 665)"/><ellipse cx="385" cy="915" rx="28" ry="46" transform="rotate(30 385 915)"/><ellipse cx="512" cy="1140" rx="28" ry="48" transform="rotate(30 512 1140)"/>
<!-- o-ring -->
<ellipse cx="1485" cy="1230" rx="133" ry="210" transform="rotate(25 1485 1230)"/><ellipse cx="1485" cy="1230" rx="110" ry="186" transform="rotate(25 1485 1230)"/>
</g>

<g class="p" stroke-width="1.7" transform="translate(700,2050) scale(0.14762)">
<path d="M308,340 L308,160 Q340,80 440,78 Q560,90 700,230 L920,530 Q965,600 970,700 L970,1930 Q960,1985 900,1985 Q840,1985 838,1930 L838,680 Q835,620 800,580 L590,290 Q510,215 435,195 L435,345"/>
<ellipse cx="370" cy="340" rx="63" ry="55"/><ellipse cx="370" cy="338" rx="33" ry="28"/>
<ellipse class="h" cx="368" cy="1095" rx="115" ry="105"/>
<ellipse cx="368" cy="1052" rx="98" ry="55"/>
<path d="M275,1060 Q290,1115 368,1112 Q440,1108 465,1055"/>
<path class="h" d="M262,910 L290,905 L320,950 L420,950 L460,925 L470,935 L465,990 M262,910 L270,945 L305,972 M260,960 L300,992 M320,950 Q368,930 420,950"/>
</g>

<g class="p" stroke-width="1.8" transform="translate(190,2070) scale(0.05685)">
<path d="M235,740 L340,470 L520,360 L580,360 L650,420 M235,740 L285,860 L390,940 M340,470 L400,480 L500,570 M400,480 L540,380 L640,440 M500,570 L420,730 L410,800 L285,750 L250,740 M285,790 L390,870"/>
<path d="M650,420 L700,410 L830,415 L900,500 L895,640 M640,440 L500,580 M430,720 L410,800 L410,940 L440,1030 L490,1060 L600,1055 L680,1015 L700,990"/>
<path d="M895,660 Q800,560 690,570 Q560,620 520,760 Q510,850 560,900 L720,990"/>
<path d="M780,600 L1340,920 Q1375,960 1370,1040 L1380,1070 L1290,1210 L1200,1240 L1130,1240 L740,1000"/>
<path d="M830,640 Q690,730 640,860 L660,940 M900,700 Q790,790 745,900 L760,985 M1000,760 Q900,840 870,940 L880,1060 M1100,830 Q1010,900 980,1000 L990,1120 M1220,880 Q1130,960 1100,1060 L1110,1190 M1320,940 Q1230,1000 1190,1090 L1200,1220"/>
<ellipse cx="1272" cy="1088" rx="50" ry="105" transform="rotate(32 1272 1088)"/>
</g>

<g class="p" stroke-width="1.7" transform="translate(380,2440) scale(0.12508)">
<ellipse class="h" cx="490" cy="1010" rx="300" ry="435" transform="rotate(-36.9 490 1010)"/>
<path d="M330,660 Q520,640 700,870 Q800,1030 790,1200 Q780,1300 700,1370" />
<path d="M380,640 Q570,630 750,870 Q840,1030 830,1180 Q820,1270 770,1320"/>
<path d="M430,620 Q620,620 790,850 Q880,1010 875,1150 Q870,1230 830,1290"/>
<path d="M480,605 L1090,175 M545,625 L1130,185 M880,1145 L1440,720"/>
<path class="k" d="M690,455 L935,305 L950,330 L830,430 L700,480 Z"/>
<path class="h" d="M1090,175 Q1150,150 1250,185 Q1400,260 1480,430 Q1520,560 1490,650 Q1470,700 1440,720"/>
<path d="M1340,250 Q1450,330 1480,470"/>
<path d="M1380,250 Q1400,210 1470,200 Q1540,195 1560,260 Q1570,330 1510,385 L1470,380"/>
<ellipse cx="1515" cy="285" rx="38" ry="82" transform="rotate(-25 1515 285)"/>
<path d="M320,1000 Q310,950 360,920 Q420,905 470,950 Q540,1020 550,1100 Q545,1170 480,1185 L450,1165 M395,925 L395,990 L330,1010 M395,990 Q450,1000 470,1080 L465,1140"/>
<path d="M225,1110 L390,1000 M310,1260 L465,1140"/>
<path d="M150,1150 Q200,1110 250,1130 Q310,1190 315,1260 Q310,1290 290,1300 L240,1310"/>
<ellipse class="h" stroke-width="3" cx="185" cy="1245" rx="55" ry="80" transform="rotate(-35 185 1245)"/><ellipse cx="182" cy="1248" rx="28" ry="48" transform="rotate(-35 182 1248)"/>
<ellipse cx="245" cy="1050" rx="35" ry="28" transform="rotate(-30 245 1050)"/><ellipse cx="250" cy="1055" rx="18" ry="14"/>
<ellipse cx="612" cy="1065" rx="40" ry="48"/><ellipse cx="605" cy="1070" rx="22" ry="28"/>
</g>

<g class="p" stroke-width="1.9" transform="translate(1085,2025) scale(0.15918)">
<path class="h" d="M720,362 L460,380 Q405,390 400,450 L430,1170 Q450,1230 560,1290 L730,1270 M1090,345 L1200,335 Q1280,360 1330,440 L1345,520 M1330,850 L1345,1090 M1130,1240 L1210,1235"/>
<path d="M720,415 L520,425 Q460,430 455,480 L500,1170 Q520,1230 560,1250 M480,560 L520,1150"/>
<!-- top ear -->
<path d="M1065,260 Q1065,200 1040,150 Q980,65 880,68 Q800,75 770,130 L720,500 L780,500 L800,380 M800,200 L770,380 L740,490 M1065,260 L1100,480 L1050,490 L1030,350"/>
<circle class="h" cx="935" cy="230" r="122"/><circle class="h" cx="935" cy="230" r="60"/><path d="M905,250 L955,200"/>
<!-- bottom ear -->
<path d="M740,1230 L820,1580 Q840,1620 870,1600 M780,1200 L820,1195 L880,1400 M1060,1170 L1120,1165 L1130,1240 L1090,1400 M1060,1170 L1030,1380 M1110,1440 Q1120,1600 1000,1630 Q900,1640 860,1560"/>
<path class="h" d="M760,1230 L850,1420"/>
<circle class="h" cx="985" cy="1500" r="122"/><circle class="h" cx="985" cy="1500" r="60"/><path d="M955,1520 L1005,1470"/>
<!-- corner bolts -->
<g id="cb"><circle cx="575" cy="530" r="100"/><circle class="h" cx="575" cy="530" r="72"/><circle cx="575" cy="530" r="42"/><circle cx="575" cy="530" r="14"/></g>
<circle cx="1250" cy="480" r="95"/><circle class="h" cx="1250" cy="480" r="68"/><circle cx="1250" cy="480" r="40"/><circle cx="1250" cy="480" r="14"/>
<circle cx="600" cy="1210" r="100"/><circle class="h" cx="600" cy="1210" r="72"/><circle cx="600" cy="1210" r="42"/><circle cx="600" cy="1210" r="14"/>
<circle cx="1275" cy="1160" r="95"/><circle class="h" cx="1275" cy="1160" r="68"/><circle cx="1275" cy="1160" r="40"/><circle cx="1275" cy="1160" r="14"/>
<!-- centre -->
<circle cx="920" cy="850" r="278"/><circle class="h" cx="920" cy="855" r="246"/>
<path d="M820,850 L920,785 L1030,830 L925,910 Z M832,856 L1018,834 M845,838 L1000,820"/>
<circle class="w h" cx="915" cy="570" r="115"/><circle cx="915" cy="570" r="90"/><circle class="h" cx="915" cy="572" r="62"/><path class="h" d="M860,582 L970,566 M862,612 L972,597"/>
<!-- right port -->
<path d="M1300,650 L1450,680 Q1470,720 1450,800 L1420,840 L1290,830 M1470,700 L1640,730 M1450,820 L1610,855 M1640,730 Q1700,740 1715,790 Q1700,860 1680,870 L1610,855 M1640,730 L1610,855"/>
<circle class="w" cx="1210" cy="720" r="130"/><circle class="h" cx="1210" cy="722" r="102"/><path class="k" d="M1195,700 L1250,715 L1230,750 Z"/>
<path d="M1340,520 L1560,510 M1380,640 L1560,640 M1360,530 L1380,640 M1560,510 L1545,640 M1560,510 L1640,505 Q1665,560 1650,635 L1545,640 M1600,508 L1590,638"/>
<path d="M440,575 L380,585 L310,600 Q295,650 310,735 L370,745 L450,740 M380,585 L390,745 M340,595 L345,740"/>
<path d="M465,935 L380,940 L370,965 L205,975 L95,985 Q80,1040 95,1115 L210,1105 L380,1085 L395,1110 L470,1105 M150,980 L160,1110 M205,975 L215,1105 M380,940 L395,1110"/>
<path class="h" d="M95,985 Q80,1040 95,1115"/>
<path d="M1345,870 L1420,880 Q1440,940 1430,1010 L1350,1030 M1380,875 L1390,1020"/>
</g>

<g class="p" stroke-width="2.2" transform="translate(1050,2230) scale(0.04548)">
<path class="w" d="M840,600 L1140,360 L1270,370 L1370,500 L1360,620 L1000,880 Z"/>
<path class="k" stroke="none" d="M330,750 L440,600 L510,530 L700,530 L770,590 L850,600 L1000,880 L1030,930 L1030,1130 L940,1220 L770,1225 L740,1270 L640,1275 L530,1250 L460,1180 L340,1010 Z"/>
<path class="w" stroke="none" d="M480,620 L520,595 L680,615 L680,640 L500,640 Z M460,740 L540,700 L660,700 L820,920 L880,930 L840,960 L830,1140 L770,1190 L760,1040 L720,960 L540,750 Z M920,920 L960,1000 L960,1110 L910,1180 L880,1180 L920,1100 Z M460,860 L520,920 L460,940 Z M510,990 L570,990 L570,1080 Z M640,1080 L680,1140 L660,1150 Z M750,690 L890,850 L910,800 Z"/>
</g>

<g class="p" stroke-width="1.3" transform="translate(1590,1970) scale(0.28425)">
<path d="M52,888 L200,720 Q260,655 320,625 L800,410 Q850,390 900,330 L1090,110 Q1140,55 1220,45 Q1280,42 1330,65 L1480,162 Q1490,185 1470,215 L1430,255 L1300,170 Q1260,148 1225,150 Q1190,155 1160,190 L960,430 Q920,475 870,495 L360,735 Q330,750 290,800 L140,968"/>
<path class="k" d="M52,888 Q42,900 78,938 Q118,968 140,968 Z"/>
</g>
<g class="p" stroke-width="1.9" transform="translate(2010,2020) scale(0.03979)">
<path d="M1090,580 L1500,830 L1510,960 Q1450,1150 1300,1330 L1150,1470 L1000,1560 L950,1640"/>
<path class="h" d="M1090,580 Q1120,700 1100,820 L950,1060 L820,1250"/>
<path d="M1090,580 L940,680 L820,850 L840,1050 L880,1060 M1080,680 L1040,860 L880,1060"/>
<path d="M820,1250 L700,1160 L520,1370 L520,1440 L570,1490 L650,1480 L820,1330 M700,1260 L560,1410"/>
<path d="M840,1330 L900,1350 L900,1450 L770,1560 L770,1620 L820,1670 L890,1670 L950,1600 L960,1540 M880,1520 L830,1580"/>
<path d="M880,1280 L1060,1090 L1180,1090 L1220,1120 L1220,1240 L1150,1320 L1060,1330 L1000,1260 L1090,1150 L1180,1160 M960,1280 L960,1420 L1020,1480 L1060,1440 L1060,1330 M1100,1360 L1100,1430 L1150,1430"/>
</g>
<g class="p" stroke-width="1.9" transform="translate(1530,2140) scale(0.03979)">
<path d="M820,440 L920,430 L1510,950 L1510,1010 L1190,1390 L1150,1400"/>
<path class="h" d="M540,800 L840,1030 L1170,1330"/>
<path d="M820,440 L780,430 L700,330 L610,290 L540,300 L520,400 L540,440 L520,590 L680,700 L800,590 L670,440 L560,560 M560,400 L670,390 L790,500"/>
<path d="M540,900 L520,790 L570,700 L440,590 L370,570 L290,600 L290,710 L340,760 L540,900 M330,640 L410,640 L500,730"/>
<path d="M800,600 L880,590 L980,660 L990,750 L960,840 L920,860 L820,860 L740,780 L660,740 M850,660 L940,720 M840,700 L900,760"/>
<path d="M820,1040 L840,1210 L1040,1340 L1170,1400 M880,1130 L1010,1280"/>
</g>

<g class="p" stroke-width="1.6" transform="translate(1070,2380) scale(0.19327)">
<path d="M315,835 L1400,200 M400,975 L1480,350"/>
<ellipse class="h" cx="165" cy="1010" rx="60" ry="88" transform="rotate(-20 165 1010)"/><ellipse cx="168" cy="1012" rx="40" ry="68" transform="rotate(-20 168 1012)"/>
<path d="M150,925 L235,890 M215,1095 L300,1050"/>
<path d="M205,880 Q280,890 310,980 Q320,1040 290,1080 L265,1080 M240,855 Q320,870 350,960 Q365,1030 330,1065 M275,835 Q360,850 390,940 Q400,1000 370,1040 L330,1065"/>
<path d="M205,880 L170,885 L135,830 L165,815 L215,870 M175,810 L220,780 L250,840 M190,805 L225,860 M330,925 L375,910 L380,925"/>
<path class="h" d="M345,950 L365,945 L365,1000 L345,1005 Z"/>
<g transform="translate(1220,-705)"><path d="M205,880 Q280,890 310,980 Q320,1040 290,1080 L265,1080 M240,855 Q320,870 350,960 Q365,1030 330,1065 M275,835 Q360,850 390,940 Q400,1000 370,1040 L330,1065"/>
<path d="M205,880 L170,885 L135,830 L165,815 L215,870 M175,810 L220,780 L250,840 M190,805 L225,860 M330,925 L375,910 L380,925"/>
<path class="h" d="M345,950 L365,945 L365,1000 L345,1005 Z"/></g>
<path d="M1530,130 Q1600,120 1630,190 Q1650,250 1620,290 L1590,310"/>
</g>
<g class="p" stroke-width="1.5" transform="translate(1820,2340) scale(0.18762)">
<path class="m" d="M55,415 L145,330 L175,340 L185,320 L300,175 L330,170 L345,135 L380,90"/>
<path d="M380,90 L670,125 M55,415 L160,660 L220,675 L395,640 M55,415 L345,455 L390,485 M80,432 L340,467 M345,455 L450,360 M180,445 Q190,520 220,570 L390,545 M72,432 L167,652"/>
<path d="M470,345 L600,235 M490,367 L620,257"/>
<ellipse cx="590" cy="185" rx="45" ry="26" transform="rotate(-15 590 185)"/><ellipse cx="420" cy="370" rx="50" ry="28" transform="rotate(-15 420 370)"/>
<path d="M600,160 L640,215 L655,235 Q640,275 610,265 M560,200 L640,215 M400,395 L440,420 L470,440 Q495,430 490,395 M430,345 L445,420 M385,380 L470,400 M610,160 L625,240"/>
<path d="M670,125 L690,150 Q700,100 740,72 Q780,65 800,100 L860,185 Q880,215 900,190 L920,175 Q1000,140 1100,145 Q1180,170 1220,250 L1240,320 L1130,345"/>
<path d="M920,175 L975,360 L1000,350 L1035,430 M935,185 L990,355"/>
<path class="m" d="M1035,430 Q1100,350 1250,345 Q1400,360 1470,500 Q1500,600 1480,700 L1410,1065"/>
<ellipse cx="765" cy="155" rx="17" ry="38" transform="rotate(10 765 155)"/>
<path d="M770,290 Q790,262 808,290 L778,568 Q755,600 735,572 Z M782,300 L752,570"/>
<path d="M500,480 Q520,420 560,415 Q580,420 590,450 L645,630 Q640,660 610,690 L580,725 Q560,720 550,690 Z M520,570 Q560,540 580,460 M585,470 L635,640 L585,700"/>
<path d="M390,485 Q420,560 410,640 L370,690 Q380,740 450,790 Q520,800 570,840 Q620,890 700,915 L1420,1070 Q1500,1110 1560,1180"/>
<path d="M395,640 L375,690 M380,740 Q430,800 520,815 Q570,850 620,895 Q660,915 720,930 L1400,1085"/>
<path class="m" d="M375,700 L470,990 L545,1065 L590,1110 L690,1125 Q700,1100 730,1110 L780,1160 L900,1190 Q905,1130 950,1120 L1130,1160 Q1190,1180 1210,1220 L1230,1265 L1390,1300 Q1400,1270 1430,1280 L1480,1330 L1610,1360 L1670,1250 Q1665,1180 1600,1170 L1560,1180"/>
<path d="M440,800 L545,1065 M1560,1180 Q1590,1260 1610,1360 M1520,1150 Q1570,1230 1590,1330 M905,1150 Q920,1130 960,1140 L1120,1180 Q1170,1195 1190,1230"/>
<ellipse cx="1605" cy="1225" rx="22" ry="20"/>
<path d="M985,360 Q850,500 790,740 L740,910 M1035,440 Q980,540 960,700 L905,950"/>
<ellipse cx="720" cy="855" rx="18" ry="42" transform="rotate(10 720 855)"/><ellipse cx="722" cy="855" rx="9" ry="30" transform="rotate(10 722 855)"/>
<circle cx="1085" cy="350" r="35"/><circle cx="1088" cy="350" r="18"/><path d="M1040,400 L1060,365"/>
<path class="m" d="M1200,440 Q1260,420 1290,460 Q1310,520 1330,560 Q1390,590 1395,640 Q1390,700 1330,710 Q1290,760 1200,765 Q1140,750 1110,690 Q1050,660 1045,600 Q1060,550 1120,540 Q1170,510 1180,470 Q1185,450 1200,440 Z"/>
<path d="M990,980 Q1000,880 1060,860 L1240,885 Q1310,910 1320,980 L1310,1040 M1020,985 Q1030,920 1080,905 L1220,925 Q1270,945 1270,1000 L1265,1030 M1005,985 Q1015,900 1070,880 L1230,905 Q1290,930 1295,990 L1290,1035"/>
</g>

<g id="labels" opacity="0.999" fill="#000" stroke="#000" stroke-width="0.3">
<g transform="matrix(1.1 0 0 1.038 118.70 130.02)"><text x="0.00" y="0">2</text><text x="16.68" y="0">9</text><text x="33.37" y="0">0</text></g>
<g transform="matrix(1.1 0 0 1.038 256.30 128.22)"><text x="0.00" y="0">2</text><text x="16.68" y="0">9</text><text x="33.37" y="0">0</text><text x="50.05" y="0">A</text></g>
<g transform="matrix(1.1 0 0 1.038 159.77 275.02)"><text x="0.00" y="0">4</text><text x="16.68" y="0">3</text><path d="M7.98,0 L10.67,0 L10.67,-21.2 L9.0,-21.2 Q8.2,-17.6 5.9,-16.3 L3.2,-16.3 L3.2,-14.3 L7.98,-14.3 Z" transform="translate(33.37,0)"/></g>
<g transform="matrix(1.1 0 0 1.038 448.21 324.49)"><text x="0.00" y="0">9</text><text x="16.68" y="0">8</text></g>
<g transform="matrix(1.1 0 0 1.038 597.02 379.62)"><text x="0.00" y="0">4</text><text x="16.68" y="0">3</text><path d="M7.98,0 L10.67,0 L10.67,-21.2 L9.0,-21.2 Q8.2,-17.6 5.9,-16.3 L3.2,-16.3 L3.2,-14.3 L7.98,-14.3 Z" transform="translate(33.37,0)"/><text x="50.05" y="0">A</text></g>
<g transform="matrix(1.1 0 0 1.038 969.47 414.24)"><text x="0.00" y="0">4</text><text x="16.68" y="0">3</text><path d="M7.98,0 L10.67,0 L10.67,-21.2 L9.0,-21.2 Q8.2,-17.6 5.9,-16.3 L3.2,-16.3 L3.2,-14.3 L7.98,-14.3 Z" transform="translate(33.37,0)"/><text x="50.05" y="0">B</text></g>
<g transform="matrix(1.1 0 0 1.038 1419.31 318.99)"><text x="0.00" y="0">4</text><text x="16.68" y="0">3</text><path d="M7.98,0 L10.67,0 L10.67,-21.2 L9.0,-21.2 Q8.2,-17.6 5.9,-16.3 L3.2,-16.3 L3.2,-14.3 L7.98,-14.3 Z" transform="translate(33.37,0)"/><text x="50.05" y="0">C</text></g>
<g transform="matrix(1.1 0 0 1.038 1443.42 512.49)"><path d="M7.98,0 L10.67,0 L10.67,-21.2 L9.0,-21.2 Q8.2,-17.6 5.9,-16.3 L3.2,-16.3 L3.2,-14.3 L7.98,-14.3 Z" transform="translate(0.00,0)"/><text x="16.68" y="0">6</text><text x="33.37" y="0">3</text></g>
<g transform="matrix(1.1 0 0 1.038 1824.48 355.24)"><text x="0.00" y="0">4</text><text x="16.68" y="0">3</text><path d="M7.98,0 L10.67,0 L10.67,-21.2 L9.0,-21.2 Q8.2,-17.6 5.9,-16.3 L3.2,-16.3 L3.2,-14.3 L7.98,-14.3 Z" transform="translate(33.37,0)"/><text x="50.05" y="0">D</text></g>
<g transform="matrix(1.1 0 0 1.038 343.02 802.37)"><text x="0.00" y="0">3</text><text x="16.68" y="0">6</text><text x="33.37" y="0">5</text></g>
<g transform="matrix(1.1 0 0 1.038 390.12 926.62)"><text x="0.00" y="0">3</text><text x="16.68" y="0">6</text><text x="33.37" y="0">5</text><text x="50.05" y="0">A</text></g>
<g transform="matrix(1.1 0 0 1.038 691.64 807.62)"><text x="0.00" y="0">5</text><text x="16.68" y="0">0</text></g>
<g transform="matrix(1.1 0 0 1.038 710.05 1144.12)"><text x="0.00" y="0">5</text><path d="M7.98,0 L10.67,0 L10.67,-21.2 L9.0,-21.2 Q8.2,-17.6 5.9,-16.3 L3.2,-16.3 L3.2,-14.3 L7.98,-14.3 Z" transform="translate(16.68,0)"/></g>
<g transform="matrix(1.1 0 0 1.038 930.79 1217.62)"><text x="0.00" y="0">4</text><path d="M7.98,0 L10.67,0 L10.67,-21.2 L9.0,-21.2 Q8.2,-17.6 5.9,-16.3 L3.2,-16.3 L3.2,-14.3 L7.98,-14.3 Z" transform="translate(16.68,0)"/><text x="33.37" y="0">5</text></g>
<g transform="matrix(1.1 0 0 1.038 1102.42 1289.12)"><path d="M7.98,0 L10.67,0 L10.67,-21.2 L9.0,-21.2 Q8.2,-17.6 5.9,-16.3 L3.2,-16.3 L3.2,-14.3 L7.98,-14.3 Z" transform="translate(0.00,0)"/><text x="16.68" y="0">8</text><text x="33.37" y="0">6</text></g>
<g transform="matrix(1.1 0 0 1.038 1315.05 1308.12)"><text x="0.00" y="0">5</text><path d="M7.98,0 L10.67,0 L10.67,-21.2 L9.0,-21.2 Q8.2,-17.6 5.9,-16.3 L3.2,-16.3 L3.2,-14.3 L7.98,-14.3 Z" transform="translate(16.68,0)"/></g>
<g transform="matrix(1.1 0 0 1.038 1824.47 927.62)"><text x="0.00" y="0">5</text><text x="16.68" y="0">4</text></g>
<g transform="matrix(1.1 0 0 1.038 1942.02 1144.12)"><path d="M7.98,0 L10.67,0 L10.67,-21.2 L9.0,-21.2 Q8.2,-17.6 5.9,-16.3 L3.2,-16.3 L3.2,-14.3 L7.98,-14.3 Z" transform="translate(0.00,0)"/><path d="M7.98,0 L10.67,0 L10.67,-21.2 L9.0,-21.2 Q8.2,-17.6 5.9,-16.3 L3.2,-16.3 L3.2,-14.3 L7.98,-14.3 Z" transform="translate(16.68,0)"/><text x="33.37" y="0">7</text><text x="50.05" y="0">4</text></g>
<g transform="matrix(1.1 0 0 1.038 1854.69 1221.62)"><path d="M7.98,0 L10.67,0 L10.67,-21.2 L9.0,-21.2 Q8.2,-17.6 5.9,-16.3 L3.2,-16.3 L3.2,-14.3 L7.98,-14.3 Z" transform="translate(0.00,0)"/><path d="M7.98,0 L10.67,0 L10.67,-21.2 L9.0,-21.2 Q8.2,-17.6 5.9,-16.3 L3.2,-16.3 L3.2,-14.3 L7.98,-14.3 Z" transform="translate(16.68,0)"/><text x="33.37" y="0">3</text><text x="50.05" y="0">0</text></g>
<g transform="matrix(1.1 0 0 1.038 362.53 1567.62)"><path d="M7.98,0 L10.67,0 L10.67,-21.2 L9.0,-21.2 Q8.2,-17.6 5.9,-16.3 L3.2,-16.3 L3.2,-14.3 L7.98,-14.3 Z" transform="translate(0.00,0)"/><text x="16.68" y="0">2</text><text x="33.37" y="0">2</text></g>
<g transform="matrix(1.1 0 0 1.038 656.62 1589.12)"><text x="0.00" y="0">5</text><path d="M7.98,0 L10.67,0 L10.67,-21.2 L9.0,-21.2 Q8.2,-17.6 5.9,-16.3 L3.2,-16.3 L3.2,-14.3 L7.98,-14.3 Z" transform="translate(16.68,0)"/><text x="33.37" y="0">B</text></g>
<g transform="matrix(1.1 0 0 1.038 407.37 1728.12)"><text x="0.00" y="0">5</text><path d="M7.98,0 L10.67,0 L10.67,-21.2 L9.0,-21.2 Q8.2,-17.6 5.9,-16.3 L3.2,-16.3 L3.2,-14.3 L7.98,-14.3 Z" transform="translate(16.68,0)"/><text x="33.37" y="0">B</text></g>
<g transform="matrix(1.1 0 0 1.038 1298.79 1765.24)"><text x="0.00" y="0">5</text><path d="M7.98,0 L10.67,0 L10.67,-21.2 L9.0,-21.2 Q8.2,-17.6 5.9,-16.3 L3.2,-16.3 L3.2,-14.3 L7.98,-14.3 Z" transform="translate(16.68,0)"/><text x="33.37" y="0">A</text></g>
<g transform="matrix(1.1 0 0 1.038 338.88 2017.62)"><text x="0.00" y="0">3</text><text x="16.68" y="0">8</text><text x="33.37" y="0">7</text></g>
<g transform="matrix(1.1 0 0 1.038 640.52 2036.62)"><path d="M7.98,0 L10.67,0 L10.67,-21.2 L9.0,-21.2 Q8.2,-17.6 5.9,-16.3 L3.2,-16.3 L3.2,-14.3 L7.98,-14.3 Z" transform="translate(0.00,0)"/><text x="16.68" y="0">8</text><text x="33.37" y="0">7</text><text x="50.05" y="0">A</text></g>
<g transform="matrix(1.1 0 0 1.038 126.77 2116.62)"><text x="0.00" y="0">3</text><text x="16.68" y="0">8</text><text x="33.37" y="0">5</text></g>
<g transform="matrix(1.1 0 0 1.038 474.09 2273.12)"><path d="M7.98,0 L10.67,0 L10.67,-21.2 L9.0,-21.2 Q8.2,-17.6 5.9,-16.3 L3.2,-16.3 L3.2,-14.3 L7.98,-14.3 Z" transform="translate(0.00,0)"/><text x="16.68" y="0">3</text><text x="33.37" y="0">3</text><path d="M7.98,0 L10.67,0 L10.67,-21.2 L9.0,-21.2 Q8.2,-17.6 5.9,-16.3 L3.2,-16.3 L3.2,-14.3 L7.98,-14.3 Z" transform="translate(50.05,0)"/></g>
<g transform="matrix(1.1 0 0 1.038 667.45 2273.12)"><text x="0.00" y="0">6</text><text x="16.68" y="0">0</text><path d="M7.98,0 L10.67,0 L10.67,-21.2 L9.0,-21.2 Q8.2,-17.6 5.9,-16.3 L3.2,-16.3 L3.2,-14.3 L7.98,-14.3 Z" transform="translate(33.37,0)"/><text x="50.05" y="0">A</text></g>
<g transform="matrix(1.1 0 0 1.038 291.80 2571.62)"><text x="0.00" y="0">2</text><text x="16.68" y="0">4</text><text x="33.37" y="0">0</text></g>
<g transform="matrix(1.1 0 0 1.038 1054.37 2092.62)"><text x="0.00" y="0">3</text><text x="16.68" y="0">8</text><text x="33.37" y="0">7</text><text x="50.05" y="0">A</text></g>
<g transform="matrix(1.1 0 0 1.038 974.37 2272.62)"><text x="0.00" y="0">3</text><text x="16.68" y="0">8</text><text x="33.37" y="0">5</text><text x="50.05" y="0">A</text></g>
<g transform="matrix(1.1 0 0 1.038 1512.41 1991.62)"><text x="0.00" y="0">9</text><path d="M7.98,0 L10.67,0 L10.67,-21.2 L9.0,-21.2 Q8.2,-17.6 5.9,-16.3 L3.2,-16.3 L3.2,-14.3 L7.98,-14.3 Z" transform="translate(16.68,0)"/><text x="33.37" y="0">8</text></g>
<g transform="matrix(1.1 0 0 1.038 1534.53 2108.12)"><text x="0.00" y="0">6</text><text x="16.68" y="0">0</text><path d="M7.98,0 L10.67,0 L10.67,-21.2 L9.0,-21.2 Q8.2,-17.6 5.9,-16.3 L3.2,-16.3 L3.2,-14.3 L7.98,-14.3 Z" transform="translate(33.37,0)"/><text x="50.05" y="0">B</text></g>
<g transform="matrix(1.1 0 0 1.038 1030.78 2414.12)"><path d="M7.98,0 L10.67,0 L10.67,-21.2 L9.0,-21.2 Q8.2,-17.6 5.9,-16.3 L3.2,-16.3 L3.2,-14.3 L7.98,-14.3 Z" transform="translate(0.00,0)"/><text x="16.68" y="0">8</text><text x="33.37" y="0">7</text></g>
<g transform="matrix(1.1 0 0 1.038 1046.20 2503.12)"><text x="0.00" y="0">6</text><text x="16.68" y="0">0</text><path d="M7.98,0 L10.67,0 L10.67,-21.2 L9.0,-21.2 Q8.2,-17.6 5.9,-16.3 L3.2,-16.3 L3.2,-14.3 L7.98,-14.3 Z" transform="translate(33.37,0)"/><text x="50.05" y="0">A</text></g>
<g transform="matrix(1.1 0 0 1.038 1733.60 2442.62)"><text x="0.00" y="0">7</text><text x="16.68" y="0">8</text><text x="33.37" y="0">8</text></g>
</g>
</svg>
</body></html>
